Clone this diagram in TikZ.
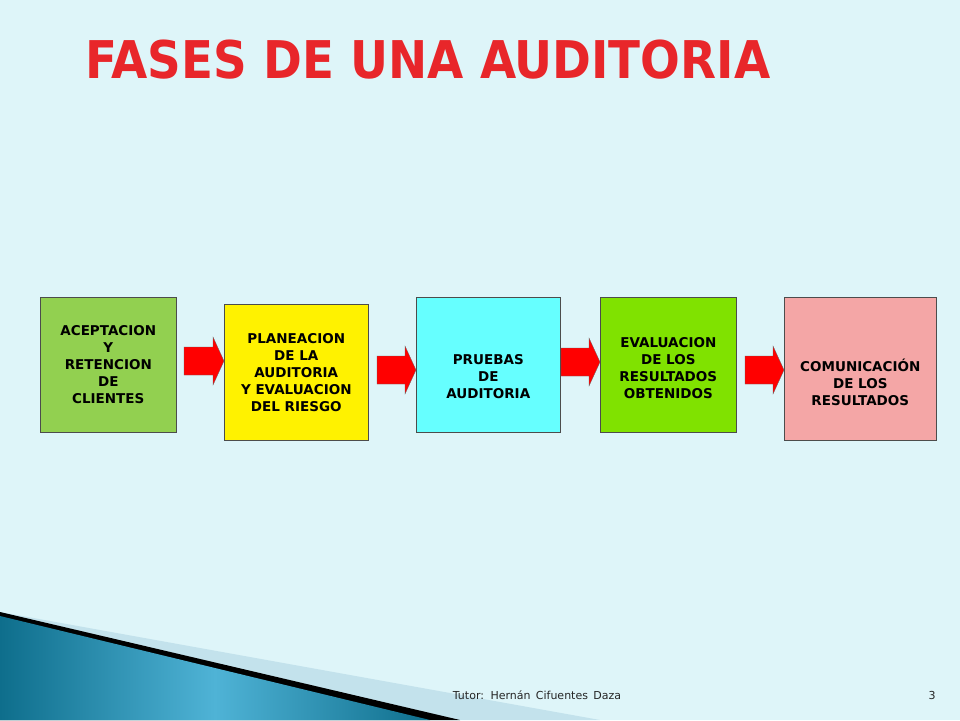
\documentclass[tikz,border=0pt]{standalone}
\usepackage{fontspec}
\setmainfont{DejaVu Sans}
\newfontfamily\titlefont{DejaVu Sans Condensed}
\usetikzlibrary{shapes.arrows}
\definecolor{bg}{HTML}{DEF5F9}
\definecolor{ttl}{HTML}{E8262A}
\definecolor{tealA}{HTML}{0E6E8C}
\definecolor{tealB}{HTML}{4FB3D6}
\definecolor{lightw}{HTML}{C3E2EC}
\tikzset{
 box/.style={draw=black!70,line width=0.6pt,anchor=north west,inner sep=0pt},
 btxt/.style={font=\fontsize{13.5}{17}\selectfont\bfseries,align=center},
 arr/.style={fill=red,draw=black!60,line width=0.3pt}
}
\newcommand{\harrow}[3]{\draw[arr] (#1,#3+14) -- (#2-11,#3+14) -- (#2-11,#3+24) -- (#2,#3) -- (#2-11,#3-24) -- (#2-11,#3-14) -- (#1,#3-14) -- cycle;}
\begin{document}
\begin{tikzpicture}[x=1pt,y=-1pt]
\useasboundingbox (0,0) rectangle (960,720);
\fill[bg] (0,0) rectangle (960,720);
% bottom decoration
\fill[lightw] (0,612) -- (600,720) -- (0,720) -- cycle;
\fill[black] (0,612) -- (460,720) -- (0,720) -- cycle;
\shade[left color=tealA, right color=tealA, middle color=tealB] (0,616) -- (430,720) -- (0,720) -- cycle;
\node[text=ttl,anchor=center,font=\titlefont\bfseries\fontsize{52}{58}\selectfont] (title) at (428,60) {FASES DE UNA AUDITORIA};
\node[box,fill={rgb,255:red,146;green,208;blue,80},minimum width=136,minimum height=135] (b1) at (40,297) {};
\node[btxt] at (b1.center) (t1) {ACEPTACION\\Y\\RETENCION\\DE\\CLIENTES};
\node[box,fill=yellow,minimum width=144,minimum height=136] (b2) at (224,304) {};
\node[btxt] at (b2.center) (t2) {PLANEACION\\DE LA\\AUDITORIA\\Y EVALUACION\\DEL RIESGO};
\node[box,fill={rgb,255:red,102;green,255;blue,255},minimum width=144,minimum height=135] (b3) at (416,297) {};
\node[btxt] at ([yshift=-12]b3.center) (t3) {PRUEBAS\\DE\\AUDITORIA};
\node[box,fill={rgb,255:red,128;green,226;blue,0},minimum width=136,minimum height=135] (b4) at (600,297) {};
\node[btxt] at ([yshift=-3]b4.center) (t4) {EVALUACION\\DE LOS\\RESULTADOS\\OBTENIDOS};
\node[box,fill={rgb,255:red,244;green,166;blue,166},minimum width=152,minimum height=143] (b5) at (784,297) {};
\node[btxt] at ([yshift=-14]b5.center) (t5) {COMUNICACIÓN\\DE LOS\\RESULTADOS};
\harrow{184}{224}{361}
\harrow{377}{416}{370}
\harrow{561}{600}{362}
\harrow{745}{784}{370}
\node[font=\fontsize{11}{13}\selectfont,text=black!85] (ft) at (537,695) {Tutor:\, Hernán\, Cifuentes\, Daza};
\node[font=\fontsize{11}{13}\selectfont,text=black!85] (pg) at (932,695) {3};
\end{tikzpicture}
\end{document}
